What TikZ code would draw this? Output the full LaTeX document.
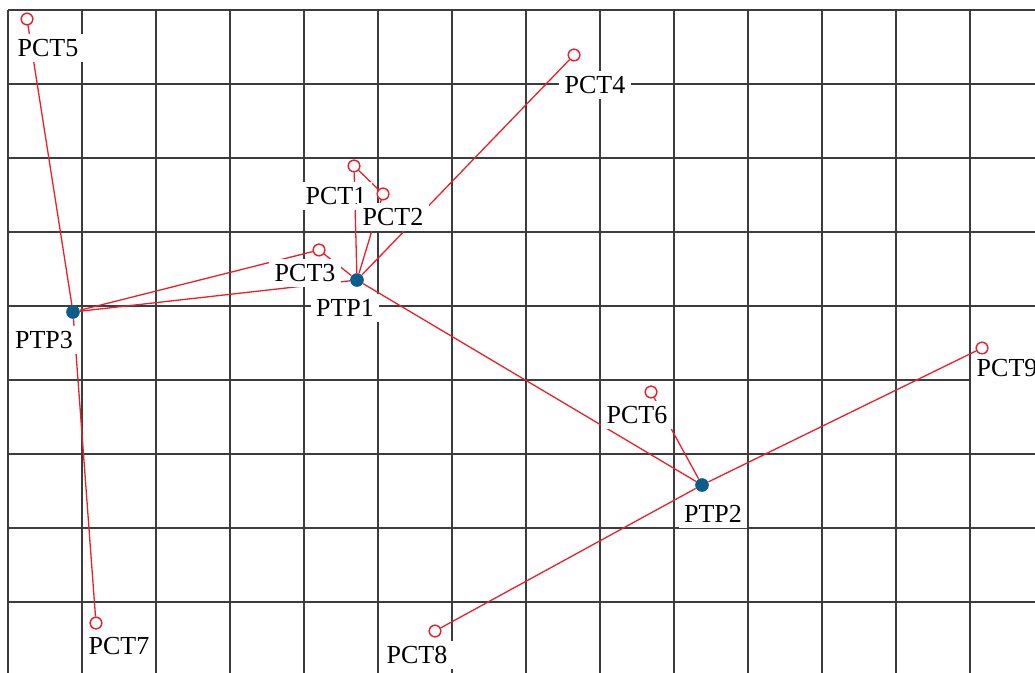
\documentclass[tikz,border=0pt]{standalone}
\usepackage{fontspec}
\setmainfont{Liberation Serif}
\definecolor{wirered}{RGB}{232,32,42}
\definecolor{ptpblue}{RGB}{12,92,140}
\definecolor{gridgray}{RGB}{60,60,60}
\begin{document}
\begin{tikzpicture}[
    pct/.style={circle, draw=wirered, fill=white, line width=0.5pt, inner sep=0pt, minimum size=0.155cm},
    ptp/.style={circle, fill=ptpblue, inner sep=0pt, minimum size=0.18cm},
    lbl/.style={fill=white, inner sep=2pt, font=\fontsize{10}{12}\selectfont},
    wire/.style={draw=wirered, line width=0.5pt},
    gridline/.style={draw=gridgray, line width=0.55pt}]

    \useasboundingbox (-0.108,0.135) rectangle (13.878,-8.946);
    \clip (-0.108,0.135) rectangle (13.878,-8.946);

    % Grid
    \draw[gridline] (0,0) grid (14.5,-9.5);

    % Points
    \node (ptp1) [ptp] at (4.716,-3.649) {};
    \node (ptp2) [ptp] at (9.378,-6.419) {};
    \node (ptp3) [ptp] at (0.878,-4.081) {};

    \node (pct1) [pct] at (4.676,-2.108) {};
    \node (pct2) [pct] at (5.068,-2.486) {};
    \node (pct3) [pct] at (4.203,-3.243) {};
    \node (pct4) [pct] at (7.649,-0.608) {};
    \node (pct5) [pct] at (0.257,-0.122) {};
    \node (pct6) [pct] at (8.689,-5.162) {};
    \node (pct7) [pct] at (1.189,-8.284) {};
    \node (pct8) [pct] at (5.770,-8.392) {};
    \node (pct9) [pct] at (13.162,-4.568) {};

    % Links
    \draw[wire] (pct5) -- (ptp3);
    \draw[wire] (ptp3) -- (pct7);
    \draw[wire] (ptp3) -- (pct3);
    \draw[wire] (ptp3) -- (ptp1);
    \draw[wire] (pct3) -- (ptp1);
    \draw[wire] (ptp1) -- (pct1);
    \draw[wire] (ptp1) -- (pct2);
    \draw[wire] (pct1) -- (pct2);
    \draw[wire] (ptp1) -- (pct4);
    \draw[wire] (ptp1) -- (ptp2);
    \draw[wire] (ptp2) -- (pct6);
    \draw[wire] (ptp2) -- (pct8);
    \draw[wire] (ptp2) -- (pct9);

    % Labels
    \node (l5) [lbl] at (0.541,-0.514) {PCT5};
    \node (l4) [lbl] at (7.932,-1.014) {PCT4};
    \node (l1) [lbl] at (4.432,-2.514) {PCT1};
    \node (l2) [lbl] at (5.203,-2.797) {PCT2};
    \node (l3) [lbl] at (4.014,-3.554) {PCT3};
    \node (l6) [lbl] at (8.500,-5.473) {PCT6};
    \node (l7) [lbl] at (1.500,-8.595) {PCT7};
    \node (l8) [lbl] at (5.527,-8.716) {PCT8};
    \node (l9) [lbl] at (13.500,-4.838) {PCT9};
    \node (lp1) [lbl] at (4.554,-4.027) {PTP1};
    \node (lp2) [lbl] at (9.527,-6.811) {PTP2};
    \node (lp3) [lbl] at (0.486,-4.459) {PTP3};

    % redraw ends over labels
    \foreach \p in {pct1,pct2,pct3,pct4,pct5,pct6,pct7,pct8,pct9}
        \node [pct] at (\p) {};
    \foreach \p in {ptp1,ptp2,ptp3}
        \node [ptp] at (\p) {};

\end{tikzpicture}
\end{document}
